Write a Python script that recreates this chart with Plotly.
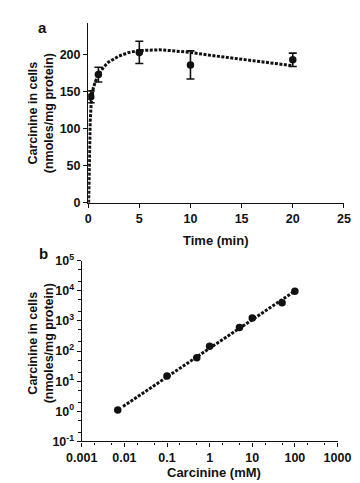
import plotly.graph_objects as go

# Panel a: time course
time_pts = [0.25, 1, 5, 10, 20]
uptake_pts = [143, 173, 203, 186, 193]
uptake_err = [8, 10, 15, 19, 9]
curve_t = [0.05, 0.08, 0.1, 0.15, 0.2, 0.3, 0.5, 0.75, 1, 1.5, 2, 3, 4, 5, 6, 7, 8, 10, 12, 14, 16, 18, 20]
curve_y = [0, 40, 70, 85, 110, 135, 155, 165, 173, 183, 190, 198, 203, 205.5, 206.5, 206.5, 205.5, 203, 199, 195.5, 192, 188.5, 185]

# Panel b: concentration dependence
conc_pts = [0.007, 0.1, 0.5, 1, 5, 10, 50, 100]
conc_uptake = [1.1, 15, 60, 145, 610, 1250, 4000, 9600]
fit_x = [0.0093, 100]
fit_y = [1.45, 9800]

a_xticks = [0, 5, 10, 15, 20, 25]
a_yticks = [0, 50, 100, 150, 200]
b_xticks = [0.001, 0.01, 0.1, 1, 10, 100, 1000]
b_xlabels = ["0.001", "0.01", "0.1", "1", "10", "100", "1000"]
b_yticks = [0.1, 1, 10, 100, 1000, 10000, 100000]
b_ylabels = ["10<sup>-1</sup>", "10<sup>0</sup>", "10<sup>1</sup>", "10<sup>2</sup>",
             "10<sup>3</sup>", "10<sup>4</sup>", "10<sup>5</sup>"]

W, H = 360, 483
FONT = "Liberation Sans, Arial, sans-serif"
INK = "#111111"

fig = go.Figure()
fig.add_trace(go.Scatter(x=curve_t, y=curve_y, mode="lines",
                         line=dict(color=INK, width=3, dash="3px,1.5px"),
                         xaxis="x", yaxis="y", hoverinfo="skip"))
fig.add_trace(go.Scatter(x=time_pts, y=uptake_pts, mode="markers",
                         marker=dict(color=INK, size=7.5),
                         error_y=dict(type="data", array=uptake_err, color=INK, thickness=1.6, width=4),
                         xaxis="x", yaxis="y"))
fig.add_trace(go.Scatter(x=fit_x, y=fit_y, mode="lines",
                         line=dict(color=INK, width=3, dash="3px,1.5px"),
                         xaxis="x2", yaxis="y2", hoverinfo="skip"))
fig.add_trace(go.Scatter(x=conc_pts, y=conc_uptake, mode="markers",
                         marker=dict(color=INK, size=7.5),
                         xaxis="x2", yaxis="y2"))

axis_common = dict(showline=True, linecolor=INK, linewidth=1.3, ticks="outside",
                   ticklen=4, tickwidth=1.3, tickcolor=INK, showgrid=False, zeroline=False,
                   tickfont=dict(family=FONT, size=12.5, color=INK, weight="bold"))

fig.update_layout(
    width=W, height=H, margin=dict(l=0, r=0, t=0, b=0),
    paper_bgcolor="white", plot_bgcolor="white", showlegend=False,
    xaxis=dict(domain=[70 / W, 349 / W], range=[0, 25], tickvals=a_xticks,
               anchor="y", **axis_common),
    yaxis=dict(domain=[(H - 192) / H, (H - 6) / H], range=[0, 243], tickvals=a_yticks,
               anchor="x", **axis_common),
    xaxis2=dict(domain=[63 / W, 342 / W], type="log", range=[-3, 3], tickvals=b_xticks,
                ticktext=b_xlabels, anchor="y2",
                minor=dict(ticks="outside", ticklen=2.5, tickwidth=1, tickcolor=INK, showgrid=False),
                **axis_common),
    yaxis2=dict(domain=[(H - 439) / H, (H - 252) / H], type="log", range=[-1, 5], tickvals=b_yticks,
                ticktext=b_ylabels, anchor="x2",
                minor=dict(ticks="outside", ticklen=2.5, tickwidth=1, tickcolor=INK, showgrid=False),
                **axis_common),
)

def ann(text, x, y, size=13, angle=0):
    fig.add_annotation(text=text, xref="paper", yref="paper",
                       x=x / W, y=(H - y) / H, xanchor="center", yanchor="middle",
                       showarrow=False, textangle=angle,
                       font=dict(family=FONT, size=size, color=INK, weight="bold"))

ann("a", 20, 11, size=15)
ann("b", 21, 245, size=15)
ann("Carcinine in cells<br>(nmoles/mg protein)", 18, 100, size=12.5, angle=-90)
ann("Carcinine in cells<br>(nmoles/mg protein)", 18, 338, size=12.5, angle=-90)
ann("Time (min)", 209, 231)
ann("Carcinine (mM)", 207, 471)

fig.write_html("out.html")
